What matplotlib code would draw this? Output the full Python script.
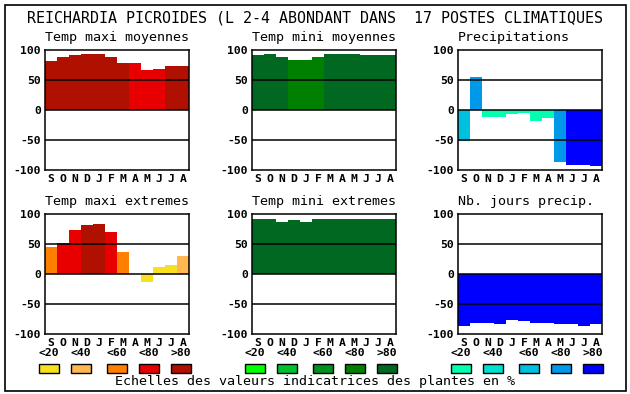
import matplotlib
matplotlib.use("Agg")
import matplotlib.pyplot as plt
from matplotlib.patches import Rectangle

plt.rcParams['font.family'] = ['DejaVu Sans Mono']

W, H = 630, 394

months = ["S", "O", "N", "D", "J", "F", "M", "A", "M", "J", "J", "A"]
class_labels = ["<20", "<40", "<60", "<80", ">80"]

title = "REICHARDIA PICROIDES (L 2-4 ABONDANT DANS  17 POSTES CLIMATIQUES"
footer = "Echelles des valeurs indicatrices des plantes en %"

# values and class index (0:<20 ... 4:>80)
tmax_moy = [81, 88, 91, 93, 93, 88, 78, 78, 66, 68, 73, 73]
tmax_moy_cls = [4, 4, 4, 4, 4, 4, 4, 3, 3, 3, 4, 4]

tmin_moy = [91, 93, 88, 84, 84, 88, 93, 93, 93, 91, 91, 91]
tmin_moy_cls = [4, 4, 4, 3, 3, 3, 4, 4, 4, 4, 4, 4]

precip = [-52, 55, -11, -11, -6, -5, -18, -13, -86, -91, -91, -93]
precip_cls = [2, 3, 0, 0, 0, 0, 0, 0, 3, 4, 4, 4]

tmax_ext = [45, 52, 74, 82, 84, 70, 37, 0, -14, 12, 15, 30]
tmax_ext_cls = [2, 3, 3, 4, 4, 3, 2, 0, 0, 0, 0, 1]

tmin_ext = [92, 92, 87, 90, 87, 92, 92, 92, 92, 92, 92, 92]
tmin_ext_cls = [4] * 12

jours = [-86, -81, -81, -83, -76, -78, -81, -81, -84, -83, -86, -84]
jours_cls = [4] * 12

red_cols = ["#F8E020", "#FFB850", "#FF8000", "#E80000", "#B01000"]
green_cols = ["#00FF00", "#00C030", "#009020", "#008000", "#006820"]
blue_cols = ["#00FFB0", "#00E0D0", "#00C0E0", "#0098E8", "#0000FF"]

fig = plt.figure(figsize=(W / 100, H / 100), dpi=100)

def fx(x):
    return x / W

def fy(y):
    return 1 - y / H

# outer border
fig.add_artist(Rectangle((fx(4.5), fy(390.5)), (626 - 4.5) / W, (390.5 - 4.5) / H,
                         transform=fig.transFigure, fill=False, edgecolor="black", lw=1.2))

fig.text(fx(315), fy(18), title, ha="center", va="center", fontsize=10.8)

panels = [
    ("Temp maxi moyennes", tmax_moy, tmax_moy_cls, red_cols, 45, 50),
    ("Temp mini moyennes", tmin_moy, tmin_moy_cls, green_cols, 252, 50),
    ("Precipitations", precip, precip_cls, blue_cols, 458, 50),
    ("Temp maxi extremes", tmax_ext, tmax_ext_cls, red_cols, 45, 214),
    ("Temp mini extremes", tmin_ext, tmin_ext_cls, green_cols, 252, 214),
    ("Nb. jours precip.", jours, jours_cls, blue_cols, 458, 214),
]

aw, ah = 144, 120
for name, vals, cls, cols, x0, y0 in panels:
    ax = fig.add_axes([fx(x0), fy(y0 + ah), aw / W, ah / H])
    ax.bar([i for i in range(12)], vals, width=1.0, align="edge",
           color=[cols[c] for c in cls], linewidth=0)
    for yl in (0, 50, -50):
        ax.axhline(yl, color="black", lw=1.1)
    ax.set_xlim(0, 12)
    ax.set_ylim(-100, 100)
    ax.set_yticks([100, 50, 0, -50, -100])
    ax.set_yticklabels(["100", "50", "0", "-50", "-100"], fontsize=8.2, fontweight="bold")
    ax.set_xticks([i + 0.5 for i in range(12)])
    ax.set_xticklabels(months, fontsize=8.2, fontweight="bold")
    ax.tick_params(length=0, pad=3)
    for s in ax.spines.values():
        s.set_linewidth(1.1)
    fig.text(fx(x0), fy(y0 - 12), name, ha="left", va="center", fontsize=9.6)

# legends
box_offsets = [-6, 26, 62, 94, 126]
for cols, x0 in ((red_cols, 45), (green_cols, 251), (blue_cols, 457)):
    for k, (c, lab) in enumerate(zip(cols, class_labels)):
        bx = x0 + box_offsets[k]
        fig.add_artist(Rectangle((fx(bx), fy(373)), 20 / W, 9 / H,
                                 transform=fig.transFigure, facecolor=c,
                                 edgecolor="black", lw=1))
        fig.text(fx(bx + 10), fy(353), lab, ha="center", va="center",
                 fontsize=8.2, fontweight="bold")

fig.text(fx(315), fy(382), footer, ha="center", va="center", fontsize=9.6)

fig.savefig("out.png", dpi=100)
